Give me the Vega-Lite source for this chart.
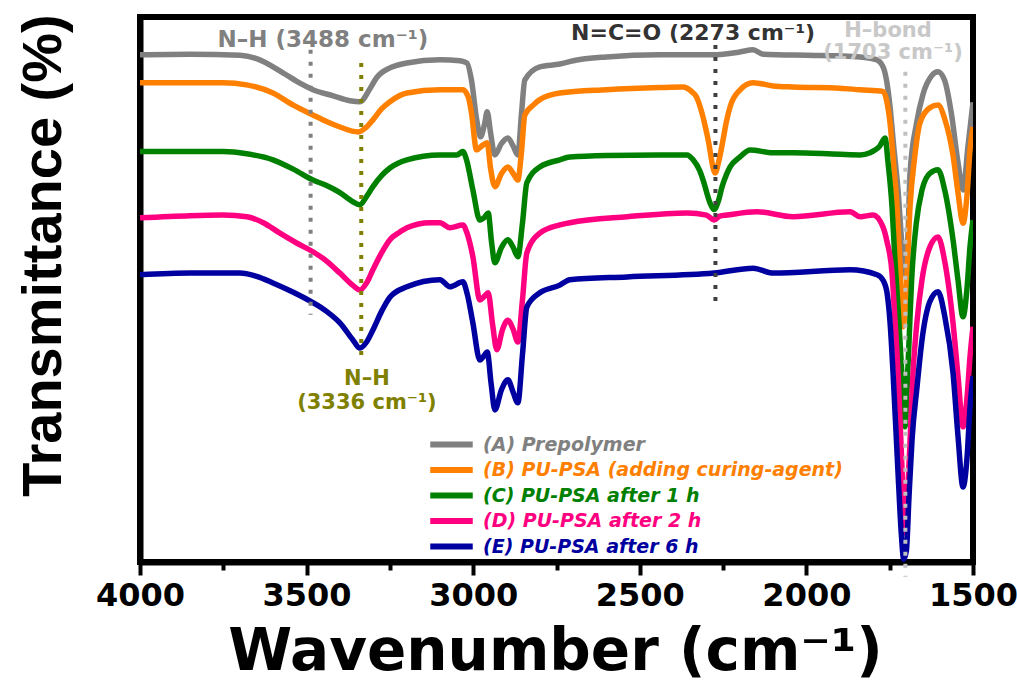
{
  "$schema": "https://vega.github.io/schema/vega-lite/v6.json",
  "autosize": {"type": "none"},
  "padding": {"left": 140, "top": 17, "right": 44, "bottom": 122},
  "width": 833,
  "height": 545,
  "config": {"view": {"stroke": "black", "strokeWidth": 6}, "font": "DejaVu Sans"},
  "datasets": {
    "spectra": [
      {"s":"A","w":4000,"t":92.7},{"s":"A","w":3850,"t":92.8},{"s":"A","w":3700,"t":92.6},{"s":"A","w":3650,"t":92.0},{"s":"A","w":3571,"t":89.4},{"s":"A","w":3520,"t":87.5},{"s":"A","w":3481,"t":86.3},{"s":"A","w":3420,"t":85.2},{"s":"A","w":3370,"t":84.3},{"s":"A","w":3340,"t":84.1},{"s":"A","w":3310,"t":86.5},{"s":"A","w":3290,"t":88.5},{"s":"A","w":3250,"t":90.3},{"s":"A","w":3199,"t":91.2},{"s":"A","w":3100,"t":91.8},{"s":"A","w":3040,"t":91.6},{"s":"A","w":3019,"t":91.2},{"s":"A","w":3005,"t":88.0},{"s":"A","w":2990,"t":81.0},{"s":"A","w":2978,"t":77.7},{"s":"A","w":2966,"t":80.0},{"s":"A","w":2958,"t":82.3},{"s":"A","w":2948,"t":78.5},{"s":"A","w":2935,"t":74.4},{"s":"A","w":2915,"t":76.5},{"s":"A","w":2896,"t":77.5},{"s":"A","w":2880,"t":76.0},{"s":"A","w":2866,"t":74.4},{"s":"A","w":2855,"t":82.0},{"s":"A","w":2845,"t":88.1},{"s":"A","w":2800,"t":90.5},{"s":"A","w":2740,"t":91.0},{"s":"A","w":2700,"t":91.6},{"s":"A","w":2600,"t":92.3},{"s":"A","w":2440,"t":92.7},{"s":"A","w":2280,"t":92.7},{"s":"A","w":2200,"t":93.2},{"s":"A","w":2160,"t":93.6},{"s":"A","w":2130,"t":92.8},{"s":"A","w":2000,"t":92.6},{"s":"A","w":1900,"t":92.5},{"s":"A","w":1839,"t":92.3},{"s":"A","w":1790,"t":91.8},{"s":"A","w":1770,"t":90.5},{"s":"A","w":1758,"t":87.5},{"s":"A","w":1749,"t":83.2},{"s":"A","w":1738,"t":76.0},{"s":"A","w":1725,"t":68.0},{"s":"A","w":1712,"t":57.0},{"s":"A","w":1704,"t":52.5},{"s":"A","w":1695,"t":60.0},{"s":"A","w":1689,"t":71.1},{"s":"A","w":1670,"t":80.0},{"s":"A","w":1650,"t":85.5},{"s":"A","w":1625,"t":88.8},{"s":"A","w":1605,"t":89.6},{"s":"A","w":1585,"t":88.0},{"s":"A","w":1565,"t":82.0},{"s":"A","w":1545,"t":73.0},{"s":"A","w":1530,"t":68.0},{"s":"A","w":1515,"t":76.0},{"s":"A","w":1500,"t":84.0},
      {"s":"B","w":4000,"t":87.6},{"s":"B","w":3750,"t":87.6},{"s":"B","w":3680,"t":87.2},{"s":"B","w":3601,"t":85.7},{"s":"B","w":3540,"t":83.5},{"s":"B","w":3481,"t":81.7},{"s":"B","w":3440,"t":80.5},{"s":"B","w":3400,"t":79.5},{"s":"B","w":3345,"t":78.6},{"s":"B","w":3320,"t":79.5},{"s":"B","w":3301,"t":80.8},{"s":"B","w":3275,"t":82.8},{"s":"B","w":3250,"t":84.1},{"s":"B","w":3199,"t":85.7},{"s":"B","w":3100,"t":86.3},{"s":"B","w":3031,"t":86.3},{"s":"B","w":3015,"t":85.0},{"s":"B","w":3005,"t":82.0},{"s":"B","w":2990,"t":75.3},{"s":"B","w":2975,"t":76.0},{"s":"B","w":2958,"t":76.6},{"s":"B","w":2948,"t":72.0},{"s":"B","w":2935,"t":68.6},{"s":"B","w":2915,"t":71.0},{"s":"B","w":2896,"t":72.2},{"s":"B","w":2880,"t":71.0},{"s":"B","w":2866,"t":69.8},{"s":"B","w":2855,"t":75.0},{"s":"B","w":2845,"t":81.7},{"s":"B","w":2820,"t":83.5},{"s":"B","w":2800,"t":84.5},{"s":"B","w":2740,"t":85.7},{"s":"B","w":2600,"t":86.3},{"s":"B","w":2440,"t":86.7},{"s":"B","w":2370,"t":86.8},{"s":"B","w":2345,"t":86.0},{"s":"B","w":2330,"t":85.0},{"s":"B","w":2319,"t":83.2},{"s":"B","w":2305,"t":80.0},{"s":"B","w":2295,"t":77.2},{"s":"B","w":2274,"t":71.1},{"s":"B","w":2262,"t":73.5},{"s":"B","w":2250,"t":77.2},{"s":"B","w":2240,"t":80.5},{"s":"B","w":2229,"t":83.2},{"s":"B","w":2199,"t":86.3},{"s":"B","w":2160,"t":87.6},{"s":"B","w":2100,"t":87.0},{"s":"B","w":2040,"t":86.8},{"s":"B","w":1900,"t":86.6},{"s":"B","w":1839,"t":86.3},{"s":"B","w":1770,"t":86.0},{"s":"B","w":1758,"t":84.0},{"s":"B","w":1749,"t":80.3},{"s":"B","w":1738,"t":72.5},{"s":"B","w":1728,"t":64.9},{"s":"B","w":1718,"t":53.0},{"s":"B","w":1710,"t":43.0},{"s":"B","w":1700,"t":50.0},{"s":"B","w":1689,"t":64.9},{"s":"B","w":1675,"t":74.0},{"s":"B","w":1659,"t":80.3},{"s":"B","w":1630,"t":83.0},{"s":"B","w":1605,"t":83.5},{"s":"B","w":1585,"t":81.0},{"s":"B","w":1560,"t":74.3},{"s":"B","w":1545,"t":67.5},{"s":"B","w":1530,"t":61.9},{"s":"B","w":1518,"t":67.0},{"s":"B","w":1509,"t":75.3},{"s":"B","w":1500,"t":79.5},
      {"s":"C","w":4000,"t":75.0},{"s":"C","w":3750,"t":75.0},{"s":"C","w":3680,"t":74.6},{"s":"C","w":3601,"t":73.5},{"s":"C","w":3540,"t":71.8},{"s":"C","w":3481,"t":69.8},{"s":"C","w":3440,"t":68.8},{"s":"C","w":3400,"t":67.5},{"s":"C","w":3360,"t":65.8},{"s":"C","w":3340,"t":65.3},{"s":"C","w":3320,"t":66.8},{"s":"C","w":3301,"t":68.6},{"s":"C","w":3275,"t":70.6},{"s":"C","w":3250,"t":72.0},{"s":"C","w":3199,"t":73.5},{"s":"C","w":3100,"t":74.4},{"s":"C","w":3049,"t":74.4},{"s":"C","w":3031,"t":75.0},{"s":"C","w":3020,"t":73.5},{"s":"C","w":3001,"t":68.0},{"s":"C","w":2980,"t":62.5},{"s":"C","w":2966,"t":63.0},{"s":"C","w":2955,"t":63.8},{"s":"C","w":2945,"t":58.5},{"s":"C","w":2935,"t":54.7},{"s":"C","w":2915,"t":57.5},{"s":"C","w":2896,"t":58.9},{"s":"C","w":2880,"t":57.5},{"s":"C","w":2866,"t":55.8},{"s":"C","w":2852,"t":62.0},{"s":"C","w":2839,"t":69.3},{"s":"C","w":2800,"t":72.2},{"s":"C","w":2740,"t":73.5},{"s":"C","w":2710,"t":74.0},{"s":"C","w":2600,"t":74.3},{"s":"C","w":2440,"t":74.4},{"s":"C","w":2358,"t":74.4},{"s":"C","w":2340,"t":73.5},{"s":"C","w":2320,"t":71.5},{"s":"C","w":2310,"t":69.8},{"s":"C","w":2289,"t":65.6},{"s":"C","w":2277,"t":64.4},{"s":"C","w":2265,"t":65.8},{"s":"C","w":2253,"t":68.6},{"s":"C","w":2240,"t":70.8},{"s":"C","w":2229,"t":72.2},{"s":"C","w":2200,"t":74.0},{"s":"C","w":2169,"t":75.3},{"s":"C","w":2100,"t":74.8},{"s":"C","w":2040,"t":74.8},{"s":"C","w":1900,"t":74.5},{"s":"C","w":1839,"t":74.4},{"s":"C","w":1809,"t":74.8},{"s":"C","w":1780,"t":76.0},{"s":"C","w":1764,"t":77.5},{"s":"C","w":1755,"t":73.0},{"s":"C","w":1743,"t":64.9},{"s":"C","w":1735,"t":56.0},{"s":"C","w":1725,"t":46.6},{"s":"C","w":1715,"t":36.0},{"s":"C","w":1704,"t":24.7},{"s":"C","w":1695,"t":36.0},{"s":"C","w":1683,"t":52.8},{"s":"C","w":1670,"t":62.0},{"s":"C","w":1653,"t":68.0},{"s":"C","w":1630,"t":71.0},{"s":"C","w":1605,"t":71.7},{"s":"C","w":1585,"t":68.0},{"s":"C","w":1560,"t":58.9},{"s":"C","w":1545,"t":51.5},{"s":"C","w":1530,"t":44.8},{"s":"C","w":1518,"t":50.0},{"s":"C","w":1509,"t":57.6},{"s":"C","w":1500,"t":62.5},
      {"s":"D","w":4000,"t":62.9},{"s":"D","w":3850,"t":63.3},{"s":"D","w":3751,"t":63.4},{"s":"D","w":3679,"t":63.1},{"s":"D","w":3630,"t":62.0},{"s":"D","w":3580,"t":60.1},{"s":"D","w":3530,"t":58.3},{"s":"D","w":3481,"t":56.7},{"s":"D","w":3440,"t":55.0},{"s":"D","w":3400,"t":52.8},{"s":"D","w":3360,"t":50.5},{"s":"D","w":3340,"t":49.7},{"s":"D","w":3320,"t":51.0},{"s":"D","w":3301,"t":53.4},{"s":"D","w":3275,"t":56.5},{"s":"D","w":3250,"t":58.9},{"s":"D","w":3220,"t":60.3},{"s":"D","w":3199,"t":61.1},{"s":"D","w":3130,"t":62.0},{"s":"D","w":3100,"t":62.0},{"s":"D","w":3070,"t":61.1},{"s":"D","w":3031,"t":61.6},{"s":"D","w":3018,"t":60.0},{"s":"D","w":3001,"t":55.8},{"s":"D","w":2980,"t":47.9},{"s":"D","w":2966,"t":48.6},{"s":"D","w":2955,"t":49.2},{"s":"D","w":2942,"t":43.5},{"s":"D","w":2929,"t":38.8},{"s":"D","w":2912,"t":42.5},{"s":"D","w":2896,"t":44.2},{"s":"D","w":2880,"t":42.5},{"s":"D","w":2866,"t":40.2},{"s":"D","w":2852,"t":48.0},{"s":"D","w":2839,"t":56.5},{"s":"D","w":2800,"t":60.1},{"s":"D","w":2740,"t":61.6},{"s":"D","w":2710,"t":62.0},{"s":"D","w":2538,"t":63.1},{"s":"D","w":2358,"t":63.8},{"s":"D","w":2300,"t":63.4},{"s":"D","w":2277,"t":62.5},{"s":"D","w":2260,"t":63.2},{"s":"D","w":2238,"t":63.4},{"s":"D","w":2148,"t":64.0},{"s":"D","w":2040,"t":63.1},{"s":"D","w":1869,"t":64.0},{"s":"D","w":1839,"t":63.1},{"s":"D","w":1800,"t":63.4},{"s":"D","w":1770,"t":61.2},{"s":"D","w":1758,"t":58.5},{"s":"D","w":1743,"t":52.8},{"s":"D","w":1735,"t":45.0},{"s":"D","w":1725,"t":34.6},{"s":"D","w":1715,"t":20.0},{"s":"D","w":1704,"t":5.3},{"s":"D","w":1692,"t":18.0},{"s":"D","w":1680,"t":34.6},{"s":"D","w":1668,"t":44.0},{"s":"D","w":1653,"t":51.6},{"s":"D","w":1630,"t":57.5},{"s":"D","w":1605,"t":59.4},{"s":"D","w":1585,"t":55.0},{"s":"D","w":1560,"t":43.7},{"s":"D","w":1545,"t":34.0},{"s":"D","w":1530,"t":24.7},{"s":"D","w":1518,"t":30.0},{"s":"D","w":1509,"t":37.5},{"s":"D","w":1500,"t":43.0},
      {"s":"E","w":4000,"t":52.5},{"s":"E","w":3850,"t":52.8},{"s":"E","w":3700,"t":52.8},{"s":"E","w":3650,"t":52.2},{"s":"E","w":3601,"t":51.0},{"s":"E","w":3540,"t":49.3},{"s":"E","w":3481,"t":47.4},{"s":"E","w":3440,"t":45.8},{"s":"E","w":3400,"t":43.7},{"s":"E","w":3360,"t":40.5},{"s":"E","w":3340,"t":39.1},{"s":"E","w":3320,"t":40.2},{"s":"E","w":3301,"t":42.4},{"s":"E","w":3275,"t":45.8},{"s":"E","w":3250,"t":48.4},{"s":"E","w":3199,"t":50.3},{"s":"E","w":3100,"t":51.6},{"s":"E","w":3070,"t":50.3},{"s":"E","w":3031,"t":51.2},{"s":"E","w":3018,"t":49.0},{"s":"E","w":3001,"t":43.7},{"s":"E","w":2980,"t":36.9},{"s":"E","w":2966,"t":37.8},{"s":"E","w":2958,"t":38.4},{"s":"E","w":2946,"t":32.5},{"s":"E","w":2935,"t":27.8},{"s":"E","w":2915,"t":31.5},{"s":"E","w":2896,"t":33.3},{"s":"E","w":2880,"t":31.0},{"s":"E","w":2866,"t":29.1},{"s":"E","w":2852,"t":38.0},{"s":"E","w":2839,"t":46.6},{"s":"E","w":2800,"t":49.2},{"s":"E","w":2740,"t":50.6},{"s":"E","w":2710,"t":51.6},{"s":"E","w":2538,"t":52.1},{"s":"E","w":2277,"t":52.8},{"s":"E","w":2160,"t":53.7},{"s":"E","w":2100,"t":52.8},{"s":"E","w":1869,"t":53.4},{"s":"E","w":1788,"t":52.5},{"s":"E","w":1770,"t":51.5},{"s":"E","w":1758,"t":49.2},{"s":"E","w":1748,"t":43.0},{"s":"E","w":1740,"t":34.6},{"s":"E","w":1725,"t":16.3},{"s":"E","w":1715,"t":5.0},{"s":"E","w":1708,"t":0.5},{"s":"E","w":1700,"t":2.0},{"s":"E","w":1692,"t":12.0},{"s":"E","w":1683,"t":22.3},{"s":"E","w":1668,"t":32.0},{"s":"E","w":1653,"t":40.6},{"s":"E","w":1630,"t":47.5},{"s":"E","w":1605,"t":49.4},{"s":"E","w":1585,"t":45.0},{"s":"E","w":1560,"t":34.6},{"s":"E","w":1545,"t":23.0},{"s":"E","w":1530,"t":13.7},{"s":"E","w":1518,"t":19.0},{"s":"E","w":1509,"t":28.3},{"s":"E","w":1500,"t":34.0}
    ]
  },
  "encoding": {
    "x": {"field": "w", "type": "quantitative",
      "scale": {"domain": [1500, 4000], "reverse": true, "nice": false, "zero": false},
      "axis": {
        "title": "Wavenumber (cm⁻¹)",
        "values": [4000, 3750, 3500, 3250, 3000, 2750, 2500, 2250, 2000, 1750, 1500],
        "format": "d",
        "labelExpr": "datum.value % 500 === 0 ? datum.label : ''",
        "domainColor": "black", "domainWidth": 6,
        "tickColor": "black", "tickWidth": 4,
        "tickSize": {"condition": {"test": "datum.value % 500 === 0", "value": 13}, "value": 8},
        "grid": false,
        "labelFont": "DejaVu Sans", "labelFontSize": 32, "labelFontWeight": "bold", "labelColor": "black",
        "labelBaseline": "alphabetic", "labelPadding": 30, "labelFlush": false, "labelOverlap": false,
        "titleFont": "DejaVu Sans", "titleFontSize": 58, "titleFontWeight": "bold", "titleColor": "black",
        "titleBaseline": "alphabetic", "titleY": 107, "titleX": 415, "titleAnchor": "middle", "titleAlign": "center"
      }
    },
    "y": {"field": "t", "type": "quantitative",
      "scale": {"domain": [0, 99.6], "nice": false, "zero": false},
      "axis": {
        "title": "Transmittance (%)",
        "ticks": false, "labels": false, "grid": false,
        "domainColor": "black", "domainWidth": 6,
        "titleFont": "Liberation Sans", "titleFontSize": 56, "titleFontWeight": "bold", "titleColor": "black",
        "titleAngle": 270, "titleX": -97, "titleY": 238, "titleAlign": "center", "titleBaseline": "middle"
      }
    }
  },
  "layer": [
    {
      "data": {"name": "spectra"},
      "mark": {"type": "line", "strokeWidth": 5.5, "strokeJoin": "round", "interpolate": "monotone", "clip": true},
      "encoding": {
        "color": {"field": "s", "type": "nominal",
          "scale": {"domain": ["A", "B", "C", "D", "E"], "range": ["#808080", "#FF8000", "#008000", "#FF0080", "#0000A0"]},
          "legend": {
            "orient": "none", "legendX": 300, "legendY": 416, "title": null,
            "symbolType": "M-2.5,0H2.5", "symbolSize": 289, "symbolStrokeWidth": 6,
            "labelFont": "DejaVu Sans", "labelFontSize": 19, "labelFontWeight": "bold", "labelFontStyle": "italic",
            "labelColor": {"expr": "scale('color', datum.value)"}, "labelLimit": 600,
            "rowPadding": 0.5, "labelOffset": 20, "padding": 0, "offset": 0,
            "labelExpr": "datum.value == 'A' ? '(A) Prepolymer' : datum.value == 'B' ? '(B) PU-PSA (adding curing-agent)' : datum.value == 'C' ? '(C) PU-PSA after 1 h' : datum.value == 'D' ? '(D) PU-PSA after 2 h' : '(E) PU-PSA after 6 h'"
          }
        }
      }
    },
    {
      "data": {"values": [{"w": 3488, "t": 93.6, "t2": 45.2}]},
      "mark": {"type": "rule", "color": "#808080", "strokeWidth": 4, "strokeDash": [4, 8]},
      "encoding": {"y2": {"field": "t2"}}
    },
    {
      "data": {"values": [{"w": 3336, "t": 91.2, "t2": 36.9}]},
      "mark": {"type": "rule", "color": "#808000", "strokeWidth": 4, "strokeDash": [4, 8]},
      "encoding": {"y2": {"field": "t2"}}
    },
    {
      "data": {"values": [{"w": 2273, "t": 94.5, "t2": 46.8}]},
      "mark": {"type": "rule", "color": "#404040", "strokeWidth": 4, "strokeDash": [4, 8]},
      "encoding": {"y2": {"field": "t2"}}
    },
    {
      "data": {"values": [{"w": 1703, "t": 89.6, "t2": -2.7}]},
      "mark": {"type": "rule", "color": "#c0c0c0", "strokeWidth": 4, "strokeDash": [4, 8]},
      "encoding": {"y2": {"field": "t2"}}
    },
    {
      "data": {"values": [{"w": 3451, "t": 95.4, "label": "N–H (3488 cm⁻¹)"}]},
      "mark": {"type": "text", "color": "#808080", "font": "DejaVu Sans", "fontSize": 23, "fontWeight": "bold", "baseline": "middle", "align": "center"},
      "encoding": {"text": {"field": "label"}}
    },
    {
      "data": {"values": [{"w": 2340, "t": 96.7, "label": "N=C=O (2273 cm⁻¹)"}]},
      "mark": {"type": "text", "color": "#333333", "font": "DejaVu Sans", "fontSize": 22, "fontWeight": "bold", "baseline": "middle", "align": "center"},
      "encoding": {"text": {"field": "label"}}
    },
    {
      "data": {"values": [{"w": 1755, "t": 97.1, "label": "H–bond"}, {"w": 1740, "t": 93.0, "label": "(1703 cm⁻¹)"}]},
      "mark": {"type": "text", "color": "#c8c8c8", "font": "DejaVu Sans", "fontSize": 21, "fontWeight": "bold", "baseline": "middle", "align": "center"},
      "encoding": {"text": {"field": "label"}}
    },
    {
      "data": {"values": [{"w": 3319, "t": 33.5, "label": "N–H"}, {"w": 3319, "t": 29.1, "label": "(3336 cm⁻¹)"}]},
      "mark": {"type": "text", "color": "#808000", "font": "DejaVu Sans", "fontSize": 21, "fontWeight": "bold", "baseline": "middle", "align": "center"},
      "encoding": {"text": {"field": "label"}}
    }
  ]
}
